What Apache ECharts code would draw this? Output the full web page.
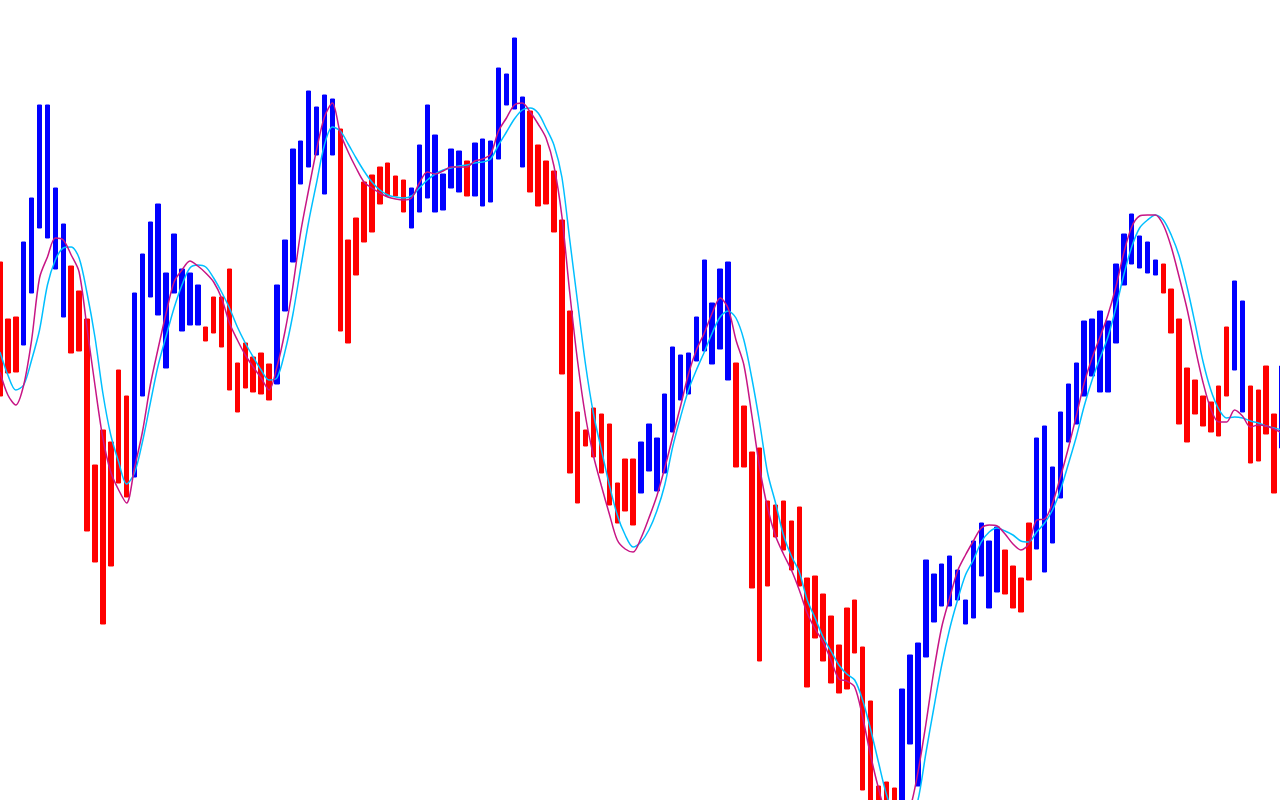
<!DOCTYPE html>
<html>
<head>
<meta charset="utf-8">
<script src="https://cdn.jsdelivr.net/npm/echarts@6/dist/echarts.min.js"></script>
<style>
html,body{margin:0;padding:0;background:#fff;overflow:hidden;width:1280px;height:800px;}
#chart{position:absolute;left:-4px;top:0;width:1290px;height:800px;}
</style>
</head>
<body>
<div id="chart"></div>
<script>
// Heiken-Ashi style bars: open / close per bar (price units)
const opens = [538,481,483,455,507,572,562,531,483,534,509,481,335,370,358,430,404,323,404,503,485,432,507,469,475,475,473,503,503,531,437,457,443,447,436,416,489,538,616,633,645,606,645,671,560,582,618,625,633,637,624,620,572,588,602,588,590,612,608,639,604,594,598,641,695,691,633,689,655,639,629,580,489,388,370,392,386,376,317,341,341,307,329,309,327,368,400,406,439,449,436,451,420,437,394,348,352,299,295,299,279,293,222,224,206,184,155,192,200,153,99,14,18,12,-5,56,14,143,178,194,194,200,176,182,224,192,208,250,234,222,277,251,228,257,302,358,376,404,424,408,408,457,515,536,532,527,525,536,511,481,432,420,404,398,414,473,430,388,414,410,434,386,352];
const closes = [404,427,428,558,602,695,695,612,576,447,449,269,238,176,234,317,303,507,546,578,596,527,566,531,527,515,459,467,453,410,388,412,408,406,400,515,560,651,659,709,693,705,701,469,457,525,558,568,596,604,604,588,612,655,695,665,626,651,649,604,657,661,659,732,726,762,703,608,594,596,568,426,327,297,354,343,327,295,277,289,275,358,376,362,406,453,445,447,483,540,497,531,538,333,333,212,139,214,263,250,230,214,113,162,139,117,107,111,147,10,-5,-5,-5,-5,111,145,157,240,226,236,244,230,200,259,277,259,273,206,192,188,220,362,374,333,388,416,437,479,481,489,479,536,566,586,564,558,540,507,467,376,358,386,374,368,364,404,519,499,337,339,366,307,434];
// Fast moving average (magenta)
const maFast = [428,405,395,415,460,522,543,562,560,545,528,472,415,362,328,310,297,332,368,415,452,487,518,530,539,534,527,518,502,477,460,445,433,422,410,433,468,513,568,610,650,683,697,667,648,632,618,612,607,603,601,600,602,617,628,626,629,633,633,633,639,641,646,669,682,695,697,688,676,662,634,584,507,438,383,344,314,286,260,251,248,262,282,304,332,363,394,426,450,467,487,502,492,460,435,385,332,292,264,246,230,210,187,171,158,140,121,119,113,83,45,12,-15,-25,-22,-8,28,76,129,173,202,229,245,259,272,275,274,266,256,250,256,280,281,297,323,352,384,417,442,463,485,513,547,573,584,585,585,575,553,523,491,453,418,391,378,378,390,384,373,375,374,371,367];
// Slow moving average (cyan)
const maSlow = [448,425,410,415,440,470,515,540,552,553,542,507,463,407,365,338,316,327,358,397,435,464,492,515,532,535,533,522,508,492,473,457,443,430,420,422,448,485,532,578,617,655,673,669,656,642,629,618,610,605,603,602,604,612,620,626,630,632,634,635,637,638,641,655,668,681,690,692,687,672,655,623,560,497,435,386,350,315,285,265,253,258,270,289,315,353,383,410,430,448,467,483,489,482,460,422,377,327,297,265,244,228,200,182,163,149,135,126,120,100,71,38,6,-15,-28,-22,0,47,92,135,171,200,225,240,258,268,272,269,265,259,258,268,277,290,310,336,363,394,420,442,463,492,525,553,572,580,585,580,565,544,513,477,439,410,391,382,383,382,379,377,374,372,370];
const categories = opens.map((_, i) => String(i + 1));

const candleData = opens.map((o, i) => {
  const c = closes[i];
  return [o, c, Math.min(o, c), Math.max(o, c)];
});

const chart = echarts.init(document.getElementById('chart'), null, {renderer: 'canvas'});
chart.setOption({
  animation: false,
  backgroundColor: '#ffffff',
  grid: {left: 0, right: 0, top: 0, bottom: 0, containLabel: false},
  xAxis: {
    type: 'category',
    data: categories,
    boundaryGap: true,
    show: false
  },
  yAxis: {
    type: 'value',
    min: 0,
    max: 800,
    show: false,
    splitLine: {show: false}
  },
  series: [
    {
      type: 'candlestick',
      data: candleData,
      barWidth: 5,
      clip: true,
      itemStyle: {
        color: '#0000FF',
        color0: '#FF0000',
        borderColor: '#0000FF',
        borderColor0: '#FF0000',
        borderWidth: 1
      }
    },
    {
      type: 'line',
      data: maSlow,
      smooth: 0.3,
      symbol: 'none',
      clip: true,
      lineStyle: {color: '#00BFFF', width: 1.5}
    },
    {
      type: 'line',
      data: maFast,
      smooth: 0.3,
      symbol: 'none',
      clip: true,
      lineStyle: {color: '#C71585', width: 1.5}
    }
  ]
});
</script>
</body>
</html>
